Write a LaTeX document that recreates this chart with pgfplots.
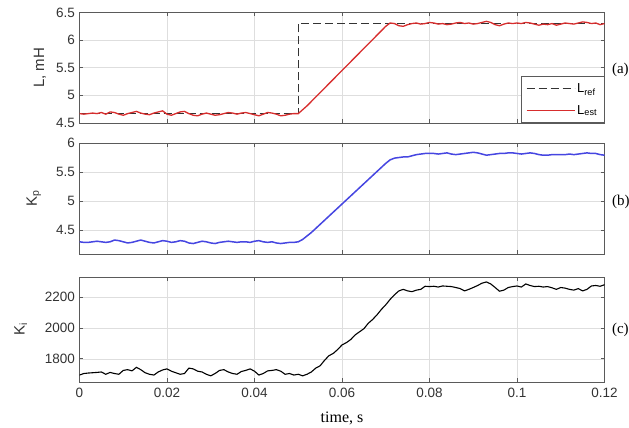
\documentclass[border=0pt]{standalone}
\usepackage{pgfplots}
\pgfplotsset{compat=1.18}
\usetikzlibrary{calc}
\usepackage{fontspec}
\setmainfont{Liberation Sans}
\newfontfamily\serif{Liberation Serif}
\definecolor{lred}{RGB}{215,45,45}
\definecolor{lblue}{RGB}{70,70,225}
\definecolor{frame}{RGB}{90,90,90}
\definecolor{gridc}{RGB}{222,222,222}

\pgfplotstableread{
x y
0.000 4.67
0.001 4.66
0.002 4.67
0.003 4.68
0.004 4.67
0.005 4.69
0.006 4.66
0.007 4.70
0.008 4.69
0.009 4.66
0.010 4.64
0.011 4.67
0.012 4.69
0.013 4.71
0.014 4.68
0.015 4.66
0.016 4.65
0.017 4.68
0.018 4.70
0.019 4.72
0.020 4.66
0.021 4.64
0.022 4.67
0.023 4.70
0.024 4.71
0.025 4.67
0.026 4.64
0.027 4.63
0.028 4.66
0.029 4.68
0.030 4.66
0.031 4.64
0.032 4.65
0.033 4.67
0.034 4.69
0.035 4.68
0.036 4.66
0.037 4.68
0.038 4.69
0.039 4.67
0.040 4.65
0.041 4.63
0.042 4.66
0.043 4.69
0.044 4.68
0.045 4.66
0.046 4.63
0.047 4.64
0.048 4.66
0.049 4.67
0.050 4.67
0.052 4.81
0.054 4.97
0.056 5.13
0.058 5.29
0.060 5.45
0.062 5.61
0.064 5.77
0.066 5.93
0.068 6.09
0.070 6.25
0.071 6.31
0.072 6.30
0.073 6.26
0.074 6.25
0.075 6.28
0.076 6.30
0.077 6.31
0.078 6.29
0.079 6.30
0.080 6.32
0.081 6.31
0.082 6.29
0.083 6.30
0.084 6.28
0.085 6.29
0.086 6.31
0.087 6.32
0.088 6.30
0.089 6.31
0.090 6.29
0.091 6.30
0.092 6.32
0.093 6.34
0.094 6.32
0.095 6.28
0.096 6.26
0.097 6.29
0.098 6.31
0.099 6.30
0.100 6.31
0.101 6.30
0.102 6.32
0.103 6.31
0.104 6.29
0.105 6.27
0.106 6.29
0.107 6.28
0.108 6.30
0.109 6.27
0.110 6.29
0.111 6.31
0.112 6.30
0.113 6.29
0.114 6.31
0.115 6.33
0.116 6.32
0.117 6.30
0.118 6.31
0.119 6.28
0.120 6.30
}\Lest

\pgfplotstableread{
x y
0.000 4.67
0.050 4.67
0.050 6.30
0.120 6.30
}\Lref

\pgfplotstableread{
x y
0.000 4.30
0.001 4.29
0.002 4.29
0.003 4.30
0.004 4.31
0.005 4.30
0.006 4.29
0.007 4.30
0.008 4.33
0.009 4.32
0.010 4.30
0.011 4.28
0.012 4.29
0.013 4.31
0.014 4.33
0.015 4.31
0.016 4.29
0.017 4.28
0.018 4.30
0.019 4.32
0.020 4.31
0.021 4.29
0.022 4.30
0.023 4.32
0.024 4.31
0.025 4.28
0.026 4.27
0.027 4.29
0.028 4.31
0.029 4.30
0.030 4.28
0.031 4.27
0.032 4.29
0.033 4.30
0.034 4.31
0.035 4.30
0.036 4.29
0.037 4.30
0.038 4.30
0.039 4.29
0.040 4.31
0.041 4.32
0.042 4.30
0.043 4.29
0.044 4.30
0.045 4.28
0.046 4.27
0.047 4.28
0.048 4.29
0.049 4.29
0.050 4.30
0.051 4.34
0.052 4.40
0.053 4.46
0.054 4.53
0.055 4.60
0.056 4.67
0.057 4.74
0.058 4.81
0.059 4.88
0.060 4.95
0.061 5.02
0.062 5.09
0.063 5.16
0.064 5.23
0.065 5.30
0.066 5.37
0.067 5.44
0.068 5.51
0.069 5.58
0.070 5.65
0.071 5.71
0.072 5.74
0.073 5.75
0.074 5.76
0.075 5.76
0.076 5.78
0.077 5.80
0.078 5.81
0.079 5.82
0.080 5.82
0.081 5.82
0.082 5.81
0.083 5.82
0.084 5.83
0.085 5.81
0.086 5.80
0.087 5.81
0.088 5.82
0.089 5.83
0.090 5.84
0.091 5.83
0.092 5.81
0.093 5.79
0.094 5.80
0.095 5.81
0.096 5.82
0.097 5.82
0.098 5.83
0.099 5.83
0.100 5.82
0.101 5.81
0.102 5.82
0.103 5.83
0.104 5.82
0.105 5.80
0.106 5.79
0.107 5.79
0.108 5.80
0.109 5.80
0.110 5.80
0.111 5.80
0.112 5.81
0.113 5.80
0.114 5.81
0.115 5.82
0.116 5.83
0.117 5.82
0.118 5.82
0.119 5.80
0.120 5.79
}\Kp

\pgfplotstableread{
x y
0.000 1695
0.001 1705
0.002 1708
0.003 1710
0.004 1712
0.005 1715
0.006 1700
0.007 1712
0.008 1705
0.009 1700
0.010 1725
0.011 1730
0.012 1722
0.013 1745
0.014 1730
0.015 1710
0.016 1700
0.017 1695
0.018 1715
0.019 1728
0.020 1735
0.021 1720
0.022 1710
0.023 1700
0.024 1705
0.025 1740
0.026 1735
0.027 1720
0.028 1715
0.029 1700
0.030 1690
0.031 1705
0.032 1725
0.033 1730
0.034 1715
0.035 1705
0.036 1700
0.037 1718
0.038 1725
0.039 1735
0.040 1720
0.041 1695
0.042 1705
0.043 1722
0.044 1725
0.045 1730
0.046 1720
0.047 1700
0.048 1705
0.049 1695
0.050 1700
0.051 1690
0.052 1700
0.053 1715
0.054 1740
0.055 1755
0.056 1790
0.057 1820
0.058 1835
0.059 1860
0.060 1890
0.061 1905
0.062 1925
0.063 1955
0.064 1975
0.065 1995
0.066 2030
0.067 2055
0.068 2085
0.069 2120
0.070 2150
0.071 2185
0.072 2215
0.073 2240
0.074 2250
0.075 2240
0.076 2235
0.077 2245
0.078 2250
0.079 2270
0.080 2268
0.081 2270
0.082 2265
0.083 2272
0.084 2270
0.085 2268
0.086 2262
0.087 2255
0.088 2240
0.089 2250
0.090 2262
0.091 2275
0.092 2290
0.093 2298
0.094 2285
0.095 2262
0.096 2238
0.097 2245
0.098 2262
0.099 2268
0.100 2272
0.101 2265
0.102 2285
0.103 2275
0.104 2268
0.105 2270
0.106 2265
0.107 2268
0.108 2260
0.109 2250
0.110 2262
0.111 2258
0.112 2250
0.113 2245
0.114 2255
0.115 2240
0.116 2250
0.117 2272
0.118 2275
0.119 2270
0.120 2280
}\Ki

\pgfplotsset{
  panel/.style={
    scale only axis,
    width=525pt,
    xmin=0, xmax=0.12,
    xtick={0,0.02,0.04,0.06,0.08,0.1,0.12},
    scaled x ticks=false, scaled y ticks=false,
    grid=major,
    major grid style={gridc, line width=0.6pt},
    axis line style={frame, line width=0.9pt},
    tick style={frame, line width=0.8pt},
    tick align=inside,
    major tick length=4pt,
    tick label style={font=\fontsize{13.5}{14}\selectfont, text=black!80},
    /pgf/number format/assume math mode=true,
    /pgf/number format/1000 sep={},
    yticklabel style={xshift=-1pt},
    ylabel style={anchor=center, font=\fontsize{15}{16}\selectfont, text=black!80},
  }
}

\begin{document}
\begin{tikzpicture}
\useasboundingbox (0,0) rectangle (629pt,-428pt);

\begin{axis}[panel, name=pa,
  at={(79.5pt,-12.5pt)}, anchor=north west,
  height=110.5pt,
  ymin=4.5, ymax=6.5,
  ytick={4.5,5,5.5,6,6.5},
  yticklabels={4.5,5,5.5,6,6.5},
  xticklabels={},
  ylabel={L, mH},
  ylabel style={at={(axis description cs:-0.0752,0.5)}},
  legend style={at={(1,0)}, anchor=south east, draw=frame, line width=0.8pt,
    font=\fontsize{13}{14}\selectfont, inner xsep=5pt, inner ysep=5pt, row sep=7pt,
    cells={anchor=west}},
  legend image code/.code={\draw (0pt,0pt) -- (48pt,0pt);},
]
\addplot[black!80, line width=1pt, dash pattern=on 8pt off 4pt] table[x=x,y=y] {\Lref};
\addlegendentry{L\textsubscript{ref}}
\addplot[lred, line width=1.3pt] table[x=x,y=y] {\Lest};
\addlegendentry{L\textsubscript{est}}
\end{axis}

\begin{axis}[panel, name=pb,
  at={(79.5pt,-143pt)}, anchor=north west,
  height=111pt,
  ymin=4.09, ymax=6,
  ytick={4.5,5,5.5,6},
  yticklabels={4.5,5,5.5,6},
  xticklabels={},
  ylabel={K\textsubscript{p}},
  ylabel style={at={(axis description cs:-0.087,0.5)}},
]
\addplot[lblue, line width=1.5pt] table[x=x,y=y] {\Kp};
\end{axis}

\begin{axis}[panel, name=pc,
  at={(79.5pt,-277pt)}, anchor=north west,
  height=105pt,
  ymin=1650, ymax=2330,
  ytick={1800,2000,2200},
  yticklabels={1800,2000,2200},
  xticklabels={0,0.02,0.04,0.06,0.08,0.1,0.12},
  xticklabel style={yshift=-3pt},
  ylabel={K\textsubscript{i}},
  ylabel style={at={(axis description cs:-0.112,0.5)}},
  xlabel={time, s},
  xlabel style={at={(axis description cs:0.5,0)}, anchor=center, yshift=-36pt,
    font=\serif\fontsize{16}{17}\selectfont},
]
\addplot[black, line width=1.1pt] table[x=x,y=y] {\Ki};
\end{axis}

\node[anchor=west, font=\serif\fontsize{15}{16}\selectfont] at ([xshift=4pt]$(pa.north east)!0.52!(pa.south east)$) {(a)};
\node[anchor=west, font=\serif\fontsize{15}{16}\selectfont] at ([xshift=4pt]$(pb.north east)!0.53!(pb.south east)$) {(b)};
\node[anchor=west, font=\serif\fontsize{15}{16}\selectfont] at ([xshift=4pt]$(pc.north east)!0.5!(pc.south east)$) {(c)};
\end{tikzpicture}
\end{document}
